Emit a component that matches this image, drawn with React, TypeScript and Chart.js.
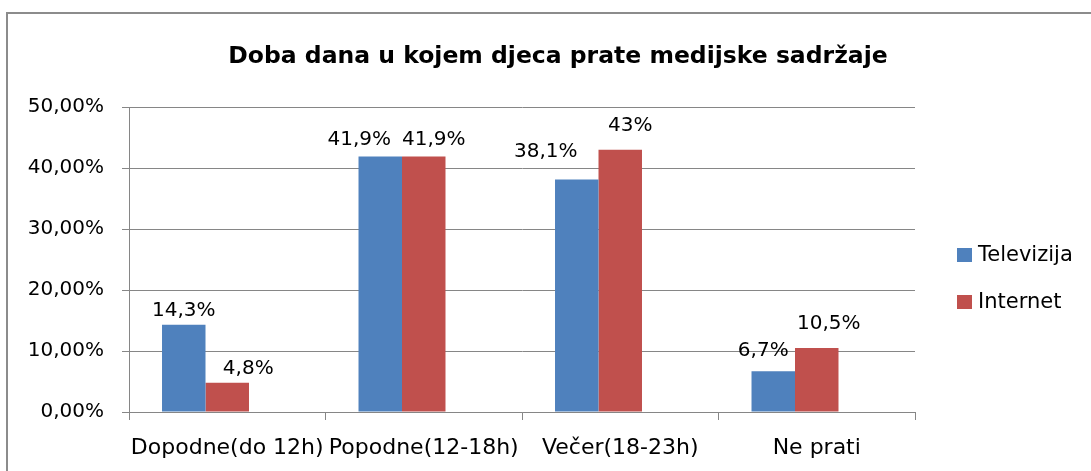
import React, { useEffect, useRef } from "react";
import { Chart, registerables } from "chart.js";

Chart.register(...registerables);

const TITLE = "Doba dana u kojem djeca prate medijske sadržaje";
const categories = ["Dopodne(do 12h)", "Popodne(12-18h)", "Večer(18-23h)", "Ne prati"];
const seriesNames = ["Televizija", "Internet"];
const televizija = [14.3, 41.9, 38.1, 6.7];
const internet = [4.8, 41.9, 43, 10.5];
// the source chart keeps an empty third series slot in every category
const emptySeries = [null, null, null, null];
const televizijaLabels = ["14,3%", "41,9%", "38,1%", "6,7%"];
const internetLabels = ["4,8%", "41,9%", "43%", "10,5%"];
const yMax = 50;
const yStep = 10;

// label nudges (px) relative to the bar top centre, [dx, dy]
const labelNudge = [
  [[0, 0], [-21, -2], [-31, -14], [-10, -6]],
  [[21, 0], [10, -2], [10, -10], [12, -10]],
];

const COLORS = ["#4F81BD", "#C0504D"];
const FONT = "'DejaVu Sans', sans-serif";
const GRID = "#868686";

const framePlugin = {
  id: "frame",
  beforeDraw(chart: any) {
    const ctx = chart.ctx;
    ctx.save();
    ctx.fillStyle = "#ffffff";
    ctx.fillRect(0, 0, chart.width, chart.height);
    ctx.strokeStyle = "#8c8c8c";
    ctx.lineWidth = 2;
    ctx.strokeRect(7, 13, chart.width + 50, chart.height + 50);
    ctx.restore();
  },
};

const titlePlugin = {
  id: "customTitle",
  afterDraw(chart: any) {
    const ctx = chart.ctx;
    ctx.save();
    ctx.font = `bold 23.5px ${FONT}`;
    ctx.fillStyle = "#000000";
    ctx.textAlign = "center";
    ctx.textBaseline = "alphabetic";
    ctx.fillText(TITLE, 558, 63);
    ctx.restore();
  },
};

const labelPlugin = {
  id: "barLabels",
  afterDatasetsDraw(chart: any) {
    const ctx = chart.ctx;
    const texts = [televizijaLabels, internetLabels];
    ctx.save();
    ctx.font = `20px ${FONT}`;
    ctx.fillStyle = "#000000";
    ctx.textAlign = "center";
    ctx.textBaseline = "alphabetic";
    [0, 1].forEach((di) => {
      const meta = chart.getDatasetMeta(di);
      meta.data.forEach((bar: any, i: number) => {
        const [dx, dy] = labelNudge[di][i];
        ctx.fillText(texts[di][i], bar.x + dx, bar.y - 9 + dy);
      });
    });
    ctx.restore();
  },
};

const legendPlugin = {
  id: "customLegend",
  afterDraw(chart: any) {
    const ctx = chart.ctx;
    ctx.save();
    ctx.font = `21px ${FONT}`;
    ctx.textBaseline = "alphabetic";
    ctx.textAlign = "left";
    [0, 1].forEach((i) => {
      const ds = chart.data.datasets[i];
      const base = 261 + i * 47;
      ctx.fillStyle = ds.backgroundColor;
      ctx.fillRect(957, base - 13, 15, 14);
      ctx.fillStyle = "#000000";
      ctx.fillText(ds.label, 978, base);
    });
    ctx.restore();
  },
};

export default function App() {
  const ref = useRef<HTMLCanvasElement | null>(null);
  useEffect(() => {
    if (!ref.current) return;
    const chart = new Chart(ref.current, {
      type: "bar",
      data: {
        labels: categories,
        datasets: [
          { label: seriesNames[0], data: televizija, backgroundColor: COLORS[0], categoryPercentage: 0.664, barPercentage: 1 },
          { label: seriesNames[1], data: internet, backgroundColor: COLORS[1], categoryPercentage: 0.664, barPercentage: 1 },
          { label: "", data: emptySeries as any, backgroundColor: "rgba(0,0,0,0)", categoryPercentage: 0.664, barPercentage: 1 },
        ],
      },
      options: {
        responsive: false,
        animation: false,
        devicePixelRatio: 1,
        layout: { padding: { left: 25, right: 176, top: 107, bottom: 0 } },
        plugins: {
          legend: { display: false },
          title: { display: false },
          tooltip: { enabled: false },
        },
        scales: {
          x: {
            grid: { drawOnChartArea: false, drawTicks: true, tickLength: 8, color: GRID, offset: true },
            border: { display: true, color: GRID, width: 1 },
            ticks: { color: "#000000", font: { family: FONT, size: 22 }, padding: 15, maxRotation: 0, autoSkip: false },
            afterFit: (s: any) => { s.height = 59; },
          },
          y: {
            min: 0,
            max: yMax,
            grid: { color: GRID, tickLength: 7, drawTicks: true },
            border: { display: true, color: GRID, width: 1 },
            ticks: {
              stepSize: yStep,
              color: "#000000",
              font: { family: FONT, size: 20 },
              padding: 18,
              callback: (v: any) => Number(v).toFixed(2).replace(".", ",") + "%",
            },
            afterFit: (s: any) => { s.width = 104; },
          },
        },
      },
      plugins: [framePlugin, titlePlugin, labelPlugin, legendPlugin],
    });
    return () => chart.destroy();
  }, []);
  return (
    <div style={{ position: "absolute", left: 0, top: 0, width: 1091, height: 471, background: "#fff" }}>
      <canvas ref={ref} width={1091} height={471} />
    </div>
  );
}
